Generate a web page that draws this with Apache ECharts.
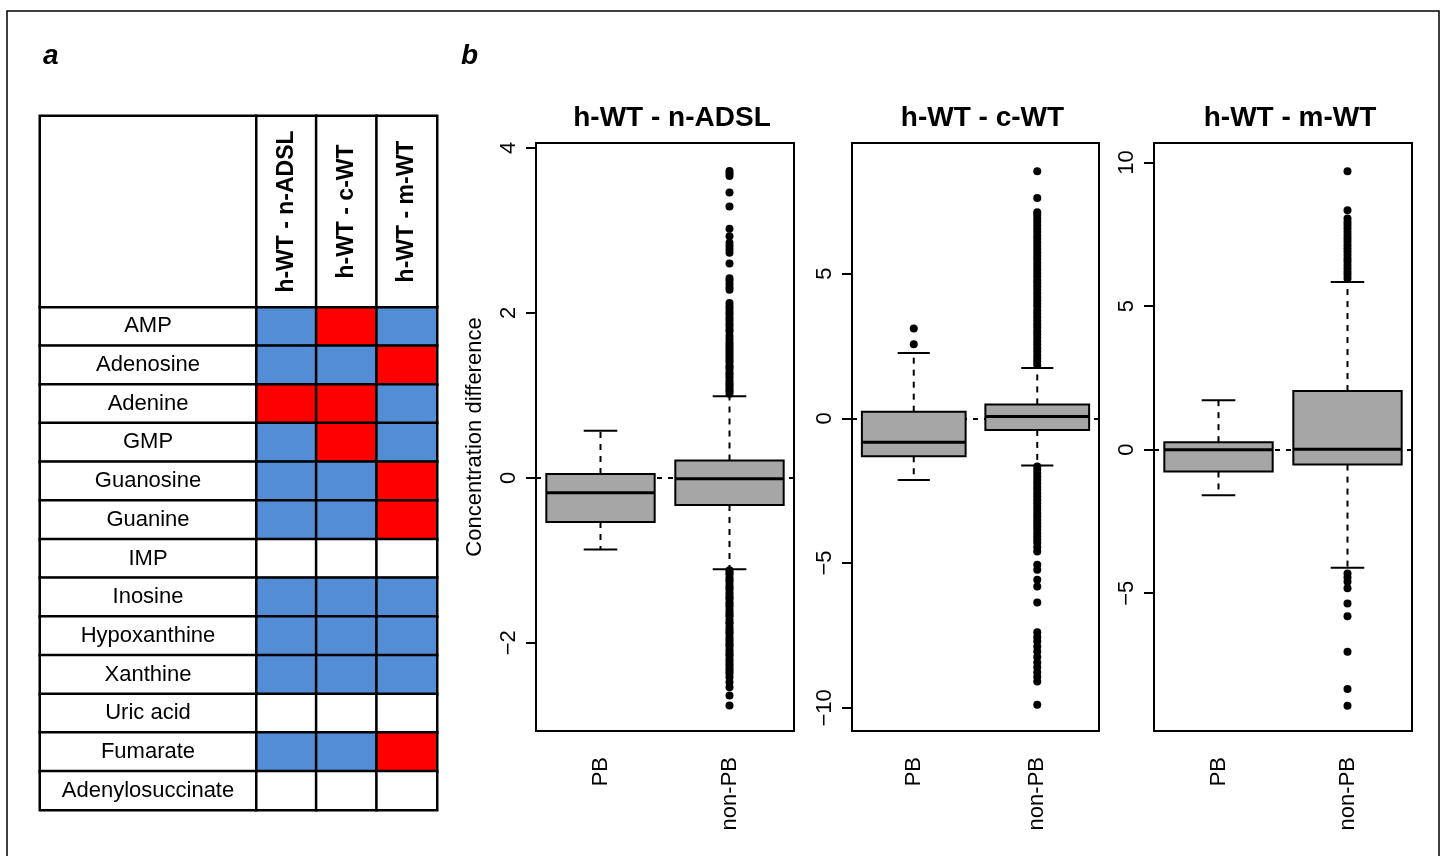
<!DOCTYPE html>
<html>
<head>
<meta charset="utf-8">
<script src="https://cdn.jsdelivr.net/npm/echarts@6/dist/echarts.min.js"></script>
<style>
html, body { margin: 0; padding: 0; background: #fff; }
#chart { width: 1444px; height: 856px; }
</style>
</head>
<body>
<div id="chart"></div>
<script>
// ---- panel a: table ----
const rowNames = ['AMP', 'Adenosine', 'Adenine', 'GMP', 'Guanosine', 'Guanine', 'IMP',
    'Inosine', 'Hypoxanthine', 'Xanthine', 'Uric acid', 'Fumarate', 'Adenylosuccinate'];
const colNames = ['h-WT - n-ADSL', 'h-WT - c-WT', 'h-WT - m-WT'];
// 0 = no colour, 1 = blue, 2 = red
const cellValues = [
    [1, 2, 1], [1, 1, 2], [2, 2, 1], [1, 2, 1], [1, 1, 2], [1, 1, 2], [0, 0, 0],
    [1, 1, 1], [1, 1, 1], [1, 1, 1], [0, 0, 0], [1, 1, 2], [0, 0, 0]
];

// ---- panel b: boxplots ----
const groups = ['PB', 'non-PB'];
// [lower whisker, Q1, median, Q3, upper whisker]
const boxADSL = [[-0.87, -0.535, -0.18, 0.045, 0.57], [-1.11, -0.33, -0.01, 0.21, 0.99]];
const outADSL_PB = [];
const outADSL_non = [1.02, 1.05, 1.07, 1.10, 1.13, 1.15, 1.18, 1.22, 1.25, 1.27, 1.31, 1.34, 1.36, 1.40,
    1.43, 1.46, 1.49, 1.52, 1.55, 1.58, 1.61, 1.64, 1.68, 1.72, 1.77, 1.80, 1.84, 1.87, 1.91, 1.94, 1.98,
    2.01, 2.05, 2.08, 2.12, 2.28, 2.31, 2.35, 2.39, 2.42, 2.60, 2.73, 2.77, 2.81, 2.85, 2.93, 3.02, 3.29,
    3.46, 3.66, 3.69, 3.72,
    -1.12, -1.15, -1.17, -1.21, -1.24, -1.26, -1.30, -1.33, -1.35, -1.39, -1.42, -1.45, -1.47, -1.51,
    -1.54, -1.56, -1.60, -1.63, -1.66, -1.68, -1.72, -1.75, -1.77, -1.81, -1.84, -1.87, -1.89, -1.93,
    -1.96, -1.99, -2.02, -2.04, -2.08, -2.11, -2.14, -2.16, -2.20, -2.23, -2.26, -2.29, -2.32, -2.35,
    -2.38, -2.42, -2.48, -2.54, -2.64, -2.76];

const boxCWT = [[-2.13, -1.31, -0.83, 0.23, 2.26], [-1.63, -0.40, 0.06, 0.48, 1.74]];
const outCWT_PB = [2.56, 3.10];
const outCWT_non = [1.84, 1.95, 2.07, 2.18, 2.31, 2.42, 2.55, 2.66, 2.78, 2.90, 3.01, 3.14, 3.25, 3.37,
    3.49, 3.60, 3.72, 3.85, 3.96, 4.08, 4.19, 4.32, 4.43, 4.55, 4.67, 4.78, 4.91, 5.02, 5.14, 5.26, 5.37,
    5.50, 5.61, 5.73, 5.85, 5.96, 6.08, 6.20, 6.31, 6.44, 6.55, 6.67, 6.79, 6.90, 7.02, 7.12, 7.61, 8.53,
    -1.66, -1.78, -1.89, -2.01, -2.13, -2.24, -2.36, -2.47, -2.59, -2.70, -2.82, -2.93, -3.05, -3.16,
    -3.28, -3.39, -3.51, -3.62, -3.74, -3.85, -3.97, -4.08, -4.19, -4.30, -4.45, -4.60, -5.06, -5.23,
    -5.58, -5.81, -6.36, -7.39, -7.55, -7.70, -7.88, -8.05, -8.24, -8.43, -8.60, -8.77, -8.93, -9.09, -9.89];

const boxMWT = [[-1.59, -0.76, 0.0, 0.26, 1.72], [-4.11, -0.52, 0.01, 2.04, 5.84]];
const outMWT_PB = [];
const outMWT_non = [5.96, 6.08, 6.19, 6.31, 6.43, 6.55, 6.66, 6.78, 6.90, 7.01, 7.13, 7.25, 7.36, 7.48,
    7.59, 7.71, 7.82, 7.93, 8.05, 8.34, 9.70,
    -4.31, -4.45, -4.60, -4.83, -5.36, -5.80, -7.04, -8.34, -8.92];

const ticksADSL = [-2, 0, 2, 4];
const ticksCWT = [-10, -5, 0, 5];
const ticksMWT = [-5, 0, 5, 10];

const cellColors = ['#ffffff', '#538dd5', '#ff0000'];
const font = 'Liberation Sans';

const panels = [
    { title: colNames[0], box: boxADSL, outPB: outADSL_PB, outNon: outADSL_non, ticks: ticksADSL, min: -3.07, max: 4.06,
      grid: { left: 536, top: 143, width: 258, height: 588 } },
    { title: colNames[1], box: boxCWT, outPB: outCWT_PB, outNon: outCWT_non, ticks: ticksCWT, min: -10.8, max: 9.51,
      grid: { left: 852, top: 143, width: 247, height: 588 } },
    { title: colNames[2], box: boxMWT, outPB: outMWT_PB, outNon: outMWT_non, ticks: ticksMWT, min: -9.8, max: 10.68,
      grid: { left: 1154, top: 143, width: 258, height: 588 } }
];

function minusFmt(v) {
    return v < 0 ? '\u2212' + Math.abs(v) : String(v);
}

function renderBox(params, api) {
    const c = api.value(0);
    const lo = api.coord([c, api.value(1)]);
    const q1 = api.coord([c, api.value(2)]);
    const md = api.coord([c, api.value(3)]);
    const q3 = api.coord([c, api.value(4)]);
    const hi = api.coord([c, api.value(5)]);
    const bw = api.size([1, 0])[0] * 0.84;
    const cap = bw * 0.31;
    const x = lo[0];
    const dash = { stroke: '#000', lineWidth: 2, lineDash: [6, 6] };
    const solid = { stroke: '#000', lineWidth: 2 };
    return {
        type: 'group',
        children: [
            { type: 'line', shape: { x1: x, y1: q3[1], x2: x, y2: hi[1] }, style: dash },
            { type: 'line', shape: { x1: x, y1: q1[1], x2: x, y2: lo[1] }, style: dash },
            { type: 'line', shape: { x1: x - cap / 2, y1: hi[1], x2: x + cap / 2, y2: hi[1] }, style: solid },
            { type: 'line', shape: { x1: x - cap / 2, y1: lo[1], x2: x + cap / 2, y2: lo[1] }, style: solid },
            { type: 'rect', shape: { x: x - bw / 2, y: q3[1], width: bw, height: q1[1] - q3[1] },
              style: { fill: '#a6a6a6', stroke: '#000', lineWidth: 2 } },
            { type: 'line', shape: { x1: x - bw / 2, y1: md[1], x2: x + bw / 2, y2: md[1] },
              style: { stroke: '#000', lineWidth: 3 } }
        ]
    };
}

const grids = [], xAxes = [], yAxes = [], series = [];
const titles = [
    { text: 'a', left: 38, top: 37, textStyle: { fontSize: 28, fontWeight: 'bold', fontStyle: 'italic', color: '#000', fontFamily: font } },
    { text: 'b', left: 456, top: 37, textStyle: { fontSize: 28, fontWeight: 'bold', fontStyle: 'italic', color: '#000', fontFamily: font } }
];

panels.forEach((p, i) => {
    grids.push(Object.assign({ show: true, borderColor: '#000', borderWidth: 2, backgroundColor: 'transparent' }, p.grid));
    titles.push({
        text: p.title, left: p.grid.left + p.grid.width / 2 + 2, top: 99, textAlign: 'center',
        textStyle: { fontSize: 28, fontWeight: 'bold', color: '#000', fontFamily: font }
    });
    xAxes.push({
        type: 'category', gridIndex: i, data: groups,
        axisLine: { onZero: false, lineStyle: { color: '#000', width: 2 } },
        axisTick: { alignWithLabel: true, length: 10, lineStyle: { color: '#000', width: 2 } },
        axisLabel: { rotate: 90, fontSize: 22, color: '#000', margin: 26, fontFamily: font }
    });
    yAxes.push({
        type: 'value', gridIndex: i, min: p.min, max: p.max,
        name: i === 0 ? 'Concentration difference' : '',
        nameLocation: 'middle', nameGap: 50, nameRotate: 90,
        nameTextStyle: { fontSize: 22, color: '#000', fontFamily: font },
        splitLine: { show: false },
        axisLine: { show: true, lineStyle: { color: '#000', width: 2 } },
        axisTick: { show: true, length: 10, customValues: p.ticks, lineStyle: { color: '#000', width: 2 } },
        axisLabel: { rotate: 90, fontSize: 22, color: '#000', margin: 16, customValues: p.ticks,
                     formatter: minusFmt, fontFamily: font }
    });
    series.push({
        type: 'line', xAxisIndex: i, yAxisIndex: i, data: [], z: 1, silent: true,
        markLine: {
            z: 1, silent: true, symbol: 'none', label: { show: false },
            lineStyle: { color: '#000', type: [5, 6], width: 2 },
            data: [{ yAxis: 0 }]
        }
    });
    series.push({
        type: 'custom', xAxisIndex: i, yAxisIndex: i, z: 3, silent: true,
        renderItem: renderBox,
        encode: { x: 0, y: [1, 2, 3, 4, 5] },
        data: p.box.map((b, k) => [k].concat(b))
    });
    series.push({
        type: 'scatter', xAxisIndex: i, yAxisIndex: i, z: 4, silent: true,
        symbolSize: 8, itemStyle: { color: '#000', opacity: 1 },
        data: p.outPB.map(v => [0, v]).concat(p.outNon.map(v => [1, v]))
    });
});

// table grids: 3 = cells, 4 = row names, 5 = header, 6 = corner
const tableGrids = [
    { left: 256, top: 307, width: 181, height: 503 },
    { left: 40, top: 307, width: 216, height: 503 },
    { left: 256, top: 116, width: 181, height: 191 },
    { left: 40, top: 116, width: 216, height: 191 }
];
const tableX = [colNames, ['name'], colNames, ['corner']];
const tableY = [rowNames, rowNames, ['head'], ['head']];
tableGrids.forEach((g, k) => {
    grids.push(g);
    xAxes.push({ type: 'category', gridIndex: 3 + k, data: tableX[k], show: false });
    yAxes.push({ type: 'category', gridIndex: 3 + k, data: tableY[k], inverse: true, show: false });
});
const cellBorder = { borderColor: '#000', borderWidth: 2.5 };

const cellData = [];
cellValues.forEach((row, r) => row.forEach((v, c) => {
    cellData.push({ value: [c, r, v], itemStyle: { color: cellColors[v] } });
}));
series.push({
    type: 'heatmap', xAxisIndex: 3, yAxisIndex: 3, silent: true,
    itemStyle: cellBorder, data: cellData
});
series.push({
    type: 'heatmap', xAxisIndex: 4, yAxisIndex: 4, silent: true,
    itemStyle: Object.assign({ color: '#fff' }, cellBorder),
    label: { show: true, fontSize: 22, color: '#000', fontFamily: font, formatter: p => rowNames[p.value[1]] },
    data: rowNames.map((n, r) => [0, r, 0])
});
series.push({
    type: 'heatmap', xAxisIndex: 5, yAxisIndex: 5, silent: true,
    itemStyle: Object.assign({ color: '#fff' }, cellBorder),
    label: { show: true, rotate: 90, fontSize: 23, fontWeight: 'bold', color: '#000', fontFamily: font,
             formatter: p => colNames[p.value[0]] },
    data: colNames.map((n, c) => [c, 0, 0])
});
series.push({
    type: 'heatmap', xAxisIndex: 6, yAxisIndex: 6, silent: true,
    itemStyle: Object.assign({ color: '#fff' }, cellBorder),
    data: [[0, 0, 0]]
});

const myChart = echarts.init(document.getElementById('chart'));
myChart.setOption({
    backgroundColor: '#fff',
    animation: false,
    textStyle: { fontFamily: font },
    title: titles,
    grid: grids,
    xAxis: xAxes,
    yAxis: yAxes,
    series: series,
    graphic: [{
        type: 'rect', shape: { x: 7, y: 11, width: 1432, height: 900 },
        style: { fill: 'none', stroke: '#000', lineWidth: 1.5 }, silent: true
    }]
});
</script>
</body>
</html>
